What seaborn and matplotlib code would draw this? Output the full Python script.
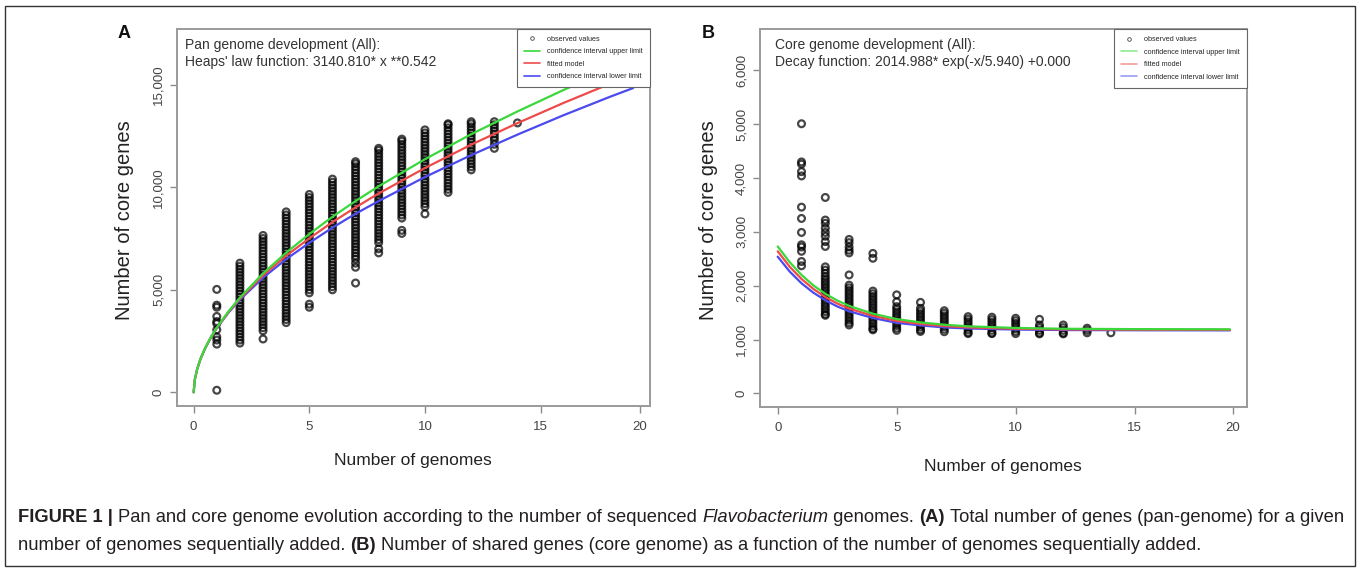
import matplotlib
matplotlib.use("Agg")
import matplotlib.pyplot as plt
from matplotlib.lines import Line2D
from matplotlib.patches import Rectangle
from matplotlib.ticker import FuncFormatter
from matplotlib import font_manager
import pandas as pd
import seaborn as sns


# ----------------------------
# Data
# ----------------------------
# Panel A: pan genome, observed gene counts per number of genomes
pan_g1 = [5020, 4250, 4150, 3700, 3450, 3350, 3050, 2700, 2550, 2350, 100]
pan_g2 = [2400, 2550, 2700, 2850, 3000, 3150, 3300, 3450, 3600, 3750, 3900, 4050, 4200, 4350,
          4500, 4650, 4800, 4950, 5100, 5250, 5400, 5550, 5700, 5850, 6000, 6150, 6300]
pan_g3 = [2600, 3000, 3150, 3300, 3450, 3600, 3750, 3900, 4050, 4200, 4350, 4500, 4650, 4800,
          4950, 5100, 5250, 5400, 5550, 5700, 5850, 6000, 6150, 6300, 6450, 6600, 6750, 6900,
          7050, 7200, 7350, 7500, 7650]
pan_g4 = [3400, 3550, 3700, 3850, 4000, 4150, 4300, 4450, 4600, 4750, 4900, 5050, 5200, 5350,
          5500, 5650, 5800, 5950, 6100, 6250, 6400, 6550, 6700, 6850, 7000, 7150, 7300, 7450,
          7600, 7750, 7900, 8050, 8200, 8350, 8500, 8650, 8800]
pan_g5 = [4150, 4300, 4850, 5000, 5150, 5300, 5450, 5600, 5750, 5900, 6050, 6200, 6350, 6500,
          6650, 6800, 6950, 7100, 7250, 7400, 7550, 7700, 7850, 8000, 8150, 8300, 8450, 8600,
          8750, 8900, 9050, 9200, 9350, 9500, 9650]
pan_g6 = [5000, 5150, 5300, 5450, 5600, 5750, 5900, 6050, 6200, 6350, 6500, 6650, 6800, 6950,
          7100, 7250, 7400, 7550, 7700, 7850, 8000, 8150, 8300, 8450, 8600, 8750, 8900, 9050,
          9200, 9350, 9500, 9650, 9800, 9950, 10100, 10250, 10400]
pan_g7 = [5330, 6100, 6300, 6500, 6650, 6800, 6950, 7100, 7250, 7400, 7550, 7700, 7850, 8000,
          8150, 8300, 8450, 8600, 8750, 8900, 9050, 9200, 9350, 9500, 9650, 9800, 9950, 10100,
          10250, 10400, 10550, 10700, 10850, 11000, 11150, 11250]
pan_g8 = [6800, 7000, 7300, 7450, 7600, 7750, 7900, 8050, 8200, 8350, 8500, 8650, 8800, 8950,
          9100, 9250, 9400, 9550, 9700, 9850, 10000, 10150, 10300, 10450, 10600, 10750, 10900,
          11050, 11200, 11350, 11500, 11650, 11800, 11900]
pan_g9 = [7750, 7900, 8500, 8650, 8800, 8950, 9100, 9250, 9400, 9550, 9700, 9850, 10000, 10150,
          10300, 10450, 10600, 10750, 10900, 11050, 11200, 11350, 11500, 11650, 11800, 11950,
          12100, 12250, 12350]
pan_g10 = [8700, 9050, 9200, 9350, 9500, 9650, 9800, 9950, 10100, 10250, 10400, 10550, 10700,
           10850, 11000, 11150, 11300, 11450, 11600, 11750, 11900, 12050, 12200, 12350, 12500,
           12650, 12800]
pan_g11 = [9750, 9900, 10050, 10200, 10350, 10500, 10650, 10800, 10950, 11100, 11250, 11400,
           11550, 11700, 11850, 12000, 12150, 12300, 12450, 12600, 12750, 12900, 13050, 13100]
pan_g12 = [10850, 11000, 11150, 11300, 11450, 11600, 11750, 11900, 12050, 12200, 12350, 12500,
           12650, 12800, 12950, 13100, 13200]
pan_g13 = [11900, 12100, 12300, 12450, 12600, 12750, 12900, 13050, 13200]
pan_g14 = [13140]

# Panel A: fitted Heaps' law curve and confidence limits
pan_fit_x = [0, 0.05, 0.15, 0.3, 0.5, 0.75, 1, 1.5, 2, 3, 4, 5, 6, 7, 8, 10, 12, 14, 16, 18, 19]
pan_upper = [0, 620, 1120, 1645, 2170, 2700, 3155, 3940, 4620, 5800, 6810, 7720, 8560, 9330,
             10050, 11370, 12590, 13700, 14750, 15740, 16210]
pan_fit = [0, 620, 1120, 1640, 2160, 2690, 3140, 3910, 4570, 5700, 6660, 7510, 8300, 9020,
           9700, 10940, 12080, 13130, 14120, 15050, 15490]
pan_lower = [0, 620, 1120, 1635, 2150, 2680, 3125, 3880, 4515, 5590, 6495, 7290, 8030, 8710,
             9330, 10500, 11570, 12570, 13520, 14415, 14840]

# Panel B: core genome, observed gene counts per number of genomes
core_g1 = [5010, 4300, 4260, 4120, 4040, 3460, 3250, 2990, 2760, 2720, 2640, 2450, 2370]
core_g2 = [3640, 3220, 3160, 3070, 2990, 2920, 2820, 2730, 2350, 2290, 2230, 2170, 2120, 2070,
           2020, 1970, 1920, 1870, 1820, 1770, 1720, 1670, 1620, 1570, 1520, 1470, 1450]
core_g3 = [2860, 2800, 2720, 2660, 2610, 2200, 2010, 1960, 1910, 1860, 1810, 1760, 1710, 1660,
           1610, 1560, 1510, 1460, 1410, 1360, 1310, 1270]
core_g4 = [2600, 2510, 1900, 1850, 1800, 1750, 1700, 1650, 1600, 1550, 1500, 1450, 1400, 1350,
           1300, 1250, 1200, 1180]
core_g5 = [1830, 1700, 1610, 1560, 1510, 1460, 1410, 1360, 1310, 1260, 1210, 1170]
core_g6 = [1690, 1580, 1530, 1480, 1430, 1380, 1330, 1280, 1230, 1180, 1150]
core_g7 = [1535, 1490, 1440, 1390, 1340, 1290, 1240, 1190, 1145]
core_g8 = [1425, 1380, 1330, 1280, 1230, 1180, 1130, 1110]
core_g9 = [1415, 1370, 1320, 1270, 1220, 1170, 1120, 1110]
core_g10 = [1395, 1350, 1300, 1250, 1200, 1150, 1110]
core_g11 = [1375, 1270, 1220, 1170, 1120, 1105]
core_g12 = [1270, 1220, 1170, 1120, 1105]
core_g13 = [1210, 1170, 1125]
core_g14 = [1125]

# Panel B: fitted decay curve and confidence limits
core_fit_x = [0, 0.5, 1, 1.5, 2, 2.5, 3, 4, 5, 6, 7, 8, 10, 12, 15, 19]
core_upper = [2730, 2440, 2200, 2005, 1850, 1725, 1625, 1480, 1380, 1318, 1275, 1245, 1215, 1200,
              1193, 1190]
core_fit = [2640, 2355, 2125, 1940, 1790, 1670, 1575, 1440, 1345, 1290, 1250, 1225, 1200, 1188,
            1182, 1180]
core_lower = [2540, 2265, 2045, 1870, 1730, 1615, 1525, 1400, 1310, 1262, 1225, 1205, 1185, 1176,
              1172, 1170]

x_ticks = [0, 5, 10, 15]
legend_labels = ["observed values", "confidence interval upper limit", "fitted model",
                 "confidence interval lower limit"]

W, H = 1360, 569
GREEN, RED, BLUE = "#3ad83a", "#ee4a4a", "#4a4aee"


def to_frame(columns):
    rows = []
    for n, values in enumerate(columns, start=1):
        rows += [(n, v) for v in values]
    return pd.DataFrame(rows, columns=["genomes", "genes"])


def px_rect(left, top, right, bottom):
    return [left / W, 1 - bottom / H, (right - left) / W, (bottom - top) / H]


def fig_text(fig, x, y, s, **kw):
    return fig.text(x / W, 1 - y / H, s, **kw)


def draw_panel(ax, obs, fit_x, upper, fit, lower, xlim, ylim, yticks, label20_x, legend_alpha):
    # semi-transparent rings: isolated points stay grey, overlapping runs turn black
    sns.scatterplot(data=obs, x="genomes", y="genes", ax=ax, marker="o", s=24,
                    facecolor="none", edgecolor=(0, 0, 0, 0.72), linewidth=1.6,
                    legend=False, zorder=2)
    for ys, col in [(lower, BLUE), (fit, RED), (upper, GREEN)]:
        sns.lineplot(x=fit_x, y=ys, ax=ax, color=col, linewidth=1.6, sort=False,
                     estimator=None, zorder=3)
    ax.set_xlim(*xlim)
    ax.set_ylim(*ylim)
    ax.set_xticks(x_ticks + [label20_x], labels=["0", "5", "10", "15", "20"])
    ax.xaxis.get_major_ticks()[-1].tick1line.set_visible(False)
    ax.set_yticks(yticks)
    ax.yaxis.set_major_formatter(FuncFormatter(lambda v, _: f"{int(v):,}"))
    ax.set_xlabel("")
    ax.set_ylabel("")
    for s in ax.spines.values():
        s.set_visible(True)
        s.set_color("#9a9a9a")
        s.set_linewidth(1.4)
    ax.tick_params(direction="out", length=5, width=1.0, color="#8a8a8a",
                   labelcolor="#444444", labelsize=9.5, bottom=True, left=True)
    ax.tick_params(axis="x", pad=6)
    ax.tick_params(axis="y", labelrotation=90, labelsize=9.5, pad=4)
    for t in ax.get_yticklabels():
        t.set_va("center")

    handles = [
        Line2D([], [], marker="o", ls="none", mfc="none", mec="#444444", ms=2.6, mew=0.6),
        Line2D([], [], color=GREEN, lw=1.2, alpha=legend_alpha),
        Line2D([], [], color=RED, lw=1.2, alpha=legend_alpha),
        Line2D([], [], color=BLUE, lw=1.2, alpha=legend_alpha),
    ]
    leg = ax.legend(handles, legend_labels, loc="upper right", borderaxespad=0, fontsize=5.2,
                    frameon=True, fancybox=False, edgecolor="#666666", framealpha=1,
                    handlelength=2.2, handletextpad=1.0, labelspacing=0.75, borderpad=1.0)
    leg.get_frame().set_linewidth(0.8)


def draw_runs(fig, x_px, y_px, runs, size):
    renderer = fig.canvas.get_renderer()
    probe = fig.text(0, 0, "a a", fontsize=size)
    probe2 = fig.text(0, 0, "aa", fontsize=size)
    space = probe.get_window_extent(renderer).width - probe2.get_window_extent(renderer).width
    probe.remove()
    probe2.remove()
    x = x_px
    for txt, weight, style in runs:
        body = txt.rstrip(" ")
        t = fig_text(fig, x, y_px, body, fontsize=size, fontweight=weight, fontstyle=style,
                     va="center", ha="left", color="#231f20")
        x += t.get_window_extent(renderer).width + space * (len(txt) - len(body))


def main():
    sns.set_theme(style="white")
    names = {f.name for f in font_manager.fontManager.ttflist}
    plt.rcParams["font.family"] = ["Liberation Sans", "DejaVu Sans"]
    narrow = "Liberation Sans Narrow" if "Liberation Sans Narrow" in names else "Liberation Sans"

    fig = plt.figure(figsize=(W / 100, H / 100), dpi=100)
    fig.patch.set_facecolor("white")

    ax_a = fig.add_axes(px_rect(177, 28.5, 650, 405.5))
    ax_b = fig.add_axes(px_rect(760, 29, 1247, 406.5))

    pan_obs = to_frame([pan_g1, pan_g2, pan_g3, pan_g4, pan_g5, pan_g6, pan_g7, pan_g8, pan_g9,
                        pan_g10, pan_g11, pan_g12, pan_g13, pan_g14])
    core_obs = to_frame([core_g1, core_g2, core_g3, core_g4, core_g5, core_g6, core_g7, core_g8,
                         core_g9, core_g10, core_g11, core_g12, core_g13, core_g14])

    draw_panel(ax_a, pan_obs, pan_fit_x, pan_upper, pan_fit, pan_lower,
               (-0.72, 19.73), (-644, 17746), [0, 5000, 10000, 15000], 19.3, 1.0)
    draw_panel(ax_b, core_obs, core_fit_x, core_upper, core_fit, core_lower,
               (-0.744, 19.72), (-245, 6771), [0, 1000, 2000, 3000, 4000, 5000, 6000], 19.13, 0.55)

    # Panel letters and in-plot annotations
    fig_text(fig, 124, 33, "A", fontsize=13, fontweight="bold", ha="center", va="center", color="#111111")
    fig_text(fig, 708, 33, "B", fontsize=13, fontweight="bold", ha="center", va="center", color="#111111")
    fig_text(fig, 185, 45, "Pan genome development (All):", fontsize=10, va="center", color="#333333")
    fig_text(fig, 185, 62, "Heaps' law function: 3140.810* x **0.542", fontsize=10, va="center", color="#333333")
    fig_text(fig, 775, 45, "Core genome development (All):", fontsize=10, va="center", color="#333333")
    fig_text(fig, 775, 62, "Decay function: 2014.988* exp(-x/5.940) +0.000", fontsize=10, va="center", color="#333333")

    # Axis titles
    for x in (125, 708):
        fig_text(fig, x, 220, "Number of core genes", fontsize=14.5, rotation=90,
                 ha="center", va="center", color="#222222")
    fig_text(fig, 413, 461, "Number of genomes", fontsize=12.5, family=[narrow, "DejaVu Sans"],
             ha="center", va="center", color="#222222")
    fig_text(fig, 1003, 466, "Number of genomes", fontsize=12.5, family=[narrow, "DejaVu Sans"],
             ha="center", va="center", color="#222222")

    # Caption
    cap = 13.25
    draw_runs(fig, 18, 517, [
        ("FIGURE 1 | ", "bold", "normal"),
        ("Pan and core genome evolution according to the number of sequenced ", "normal", "normal"),
        ("Flavobacterium", "normal", "italic"),
        (" genomes. ", "normal", "normal"),
        ("(A) ", "bold", "normal"),
        ("Total number of genes (pan-genome) for a given", "normal", "normal"),
    ], cap)
    draw_runs(fig, 18, 545, [
        ("number of genomes sequentially added. ", "normal", "normal"),
        ("(B) ", "bold", "normal"),
        ("Number of shared genes (core genome) as a function of the number of genomes sequentially added.",
         "normal", "normal"),
    ], cap)

    # Outer frame
    fig.patches.append(Rectangle((5 / W, 3 / H), 1350 / W, 560 / H, transform=fig.transFigure,
                                 fill=False, edgecolor="#333333", linewidth=1.0))

    fig.savefig("out.png", dpi=100)
    plt.close(fig)


if __name__ == "__main__":
    main()
